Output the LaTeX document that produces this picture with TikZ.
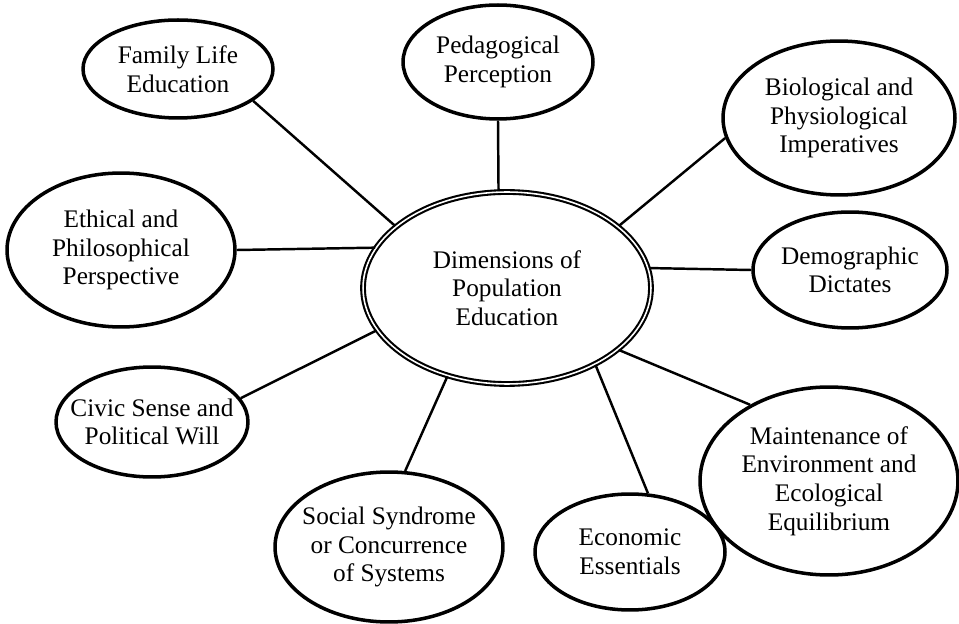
\documentclass[tikz,border=0pt]{standalone}
\usepackage{fontspec}
\setmainfont{Liberation Serif}
\usetikzlibrary{shapes.geometric}

\begin{document}
\begin{tikzpicture}[
    x=0.02cm, y=-0.02cm,
    bubble/.style={ellipse, draw=black, line width=2pt, inner sep=-8pt, align=center, font=\fontsize{14.4}{16.3}\selectfont},
    hub/.style={bubble, double, line width=1.2pt, double distance=0.9pt},
    link/.style={line width=1.4pt, draw=black}
]
\useasboundingbox (0,0) rectangle (959,624);

% Centre
\node[hub, minimum width=5.76cm, minimum height=3.84cm] (dims) at (507,288) {Dimensions of\\Population\\Education};

% Surrounding dimensions
\node[bubble, minimum width=3.8cm, minimum height=1.96cm] (family) at (178,69) {Family Life\\Education};
\node[bubble, minimum width=3.8cm, minimum height=2.28cm] (pedago) at (498,62) {Pedagogical\\Perception};
\node[bubble, minimum width=4.64cm, minimum height=3.08cm] (bio) at (839,118) {Biological and\\Physiological\\Imperatives};
\node[bubble, minimum width=4.56cm, minimum height=3.08cm] (ethical) at (121,250) {Ethical and\\Philosophical\\Perspective};
\node[bubble, minimum width=3.88cm, minimum height=2.32cm] (demo) at (850,270) {Demographic\\Dictates};
\node[bubble, minimum width=3.84cm, minimum height=2.2cm] (civic) at (152,422) {Civic Sense and\\Political Will};
\node[bubble, minimum width=4.56cm, minimum height=3.0cm] (social) at (389,547) {Social Syndrome\\or Concurrence\\of Systems};
\node[bubble, minimum width=3.8cm, minimum height=2.32cm] (econ) at (630,552) {Economic\\Essentials};
\node[bubble, minimum width=5.16cm, minimum height=3.76cm] (maint) at (829,481) {Maintenance of\\Environment and\\Ecological\\Equilibrium};

% Spokes
\draw[link] (dims.151) -- (family.337);
\draw[link] (dims.95) -- (pedago.south);
\draw[link] (dims.29) -- (bio.190);
\draw[link] (dims.163) -- (ethical.east);
\draw[link] (dims.8) -- (demo.west);
\draw[link] (dims.198) -- (civic.15);
\draw[link] (dims.236) -- (social.78);
\draw[link] (dims.319) -- (econ.73);
\draw[link] (dims.331) -- (maint.136);

\end{tikzpicture}
\end{document}
